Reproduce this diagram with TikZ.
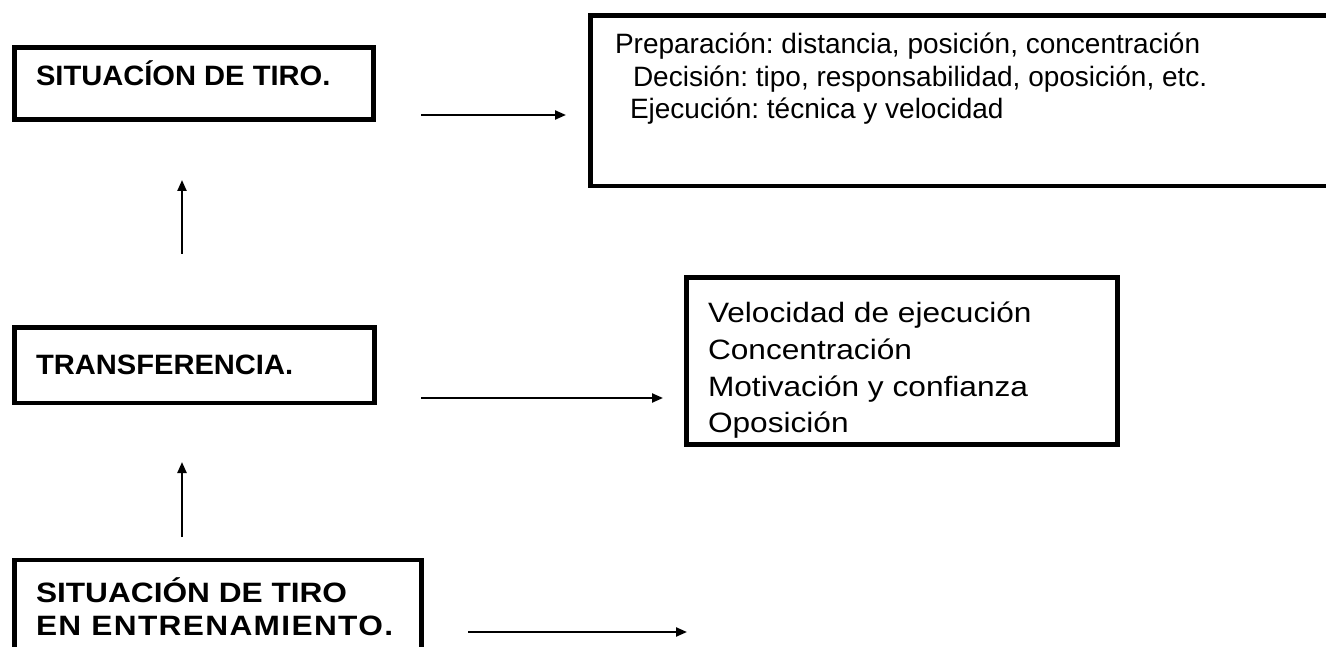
\documentclass[tikz,border=0pt]{standalone}
\usepackage{fontspec}
\setmainfont{Liberation Sans}
\newfontfamily\widefont[FakeStretch=1.13]{Liberation Sans}
\newfontfamily\spacedfont[FakeStretch=1.13,LetterSpace=4.8]{Liberation Sans}
\newfontfamily\midfont[FakeStretch=1.04]{Liberation Sans}
\usetikzlibrary{arrows.meta}
\frenchspacing
\tikzset{
  frame/.style={draw=black, line width=4.5pt, inner sep=0pt, outer sep=0pt, anchor=north west},
  label/.style={inner sep=0pt, outer sep=0pt, anchor=base west, font=\fontsize{28}{33}\selectfont},
  boldlabel/.style={label, font=\midfont\bfseries\fontsize{28}{33}\selectfont},
  widebold/.style={label, font=\widefont\bfseries\fontsize{28}{33}\selectfont},
  spacedbold/.style={label, font=\spacedfont\bfseries\fontsize{28}{33}\selectfont},
  widelabel/.style={label, font=\widefont\fontsize{28}{33}\selectfont},
  link/.style={line width=2.2pt, -{Triangle[length=11pt,width=9pt]}}
}
\begin{document}
\begin{tikzpicture}[x=1pt,y=-1pt]
\useasboundingbox (0,0) rectangle (1326,647);
\clip (0,0) rectangle (1326,647);
\fill[white] (0,0) rectangle (1326,647);

% boxes
\node[frame, minimum width=359pt, minimum height=72pt] (b1) at (14.5,47.5) {};
\node[frame, minimum width=760pt, minimum height=170.5pt] (b2) at (590.5,15.5) {};
\node[frame, minimum width=360pt, minimum height=75.5pt] (b3) at (14.5,327.5) {};
\node[frame, minimum width=431pt, minimum height=167pt] (b4) at (686.5,277.5) {};
\node[frame, minimum width=407pt, minimum height=140pt] (b5) at (14.5,560) {};

% texts
\node[boldlabel] (t1) at (36,86) {SITUAC\'{I}ON DE TIRO.};
\node[label] (t2a) at (615,54) {Preparación: distancia, posición, concentración};
\node[label] (t2b) at (633,87) {Decisión: tipo, responsabilidad, oposición, etc.};
\node[label] (t2c) at (630,119) {Ejecución: técnica y velocidad};
\node[boldlabel] (t3) at (36,374) {TRANSFERENCIA.};
\node[widelabel] (t4a) at (708,323) {Velocidad de ejecución};
\node[widelabel] (t4b) at (708,359) {Concentración};
\node[widelabel] (t4c) at (708,396) {Motivación y confianza};
\node[widelabel] (t4d) at (708,432) {Oposición};
\node[widebold] (t5a) at (36,602) {SITUACIÓN DE TIRO};
\node[spacedbold] (t5b) at (36,635) {EN ENTRENAMIENTO.};

% arrow end points
\coordinate (a1s) at (421,115);
\coordinate (a1e) at (566,115);
\coordinate (a2s) at (421,398);
\coordinate (a2e) at (663,398);
\coordinate (a3s) at (468,632);
\coordinate (a3e) at (687,632);
\coordinate (v1s) at (182,254);
\coordinate (v1e) at (182,180);
\coordinate (v2s) at (182,537);
\coordinate (v2e) at (182,462);

\draw[link] (a1s) -- (a1e);
\draw[link] (a2s) -- (a2e);
\draw[link] (a3s) -- (a3e);
\draw[link] (v1s) -- (v1e);
\draw[link] (v2s) -- (v2e);
\end{tikzpicture}
\end{document}
